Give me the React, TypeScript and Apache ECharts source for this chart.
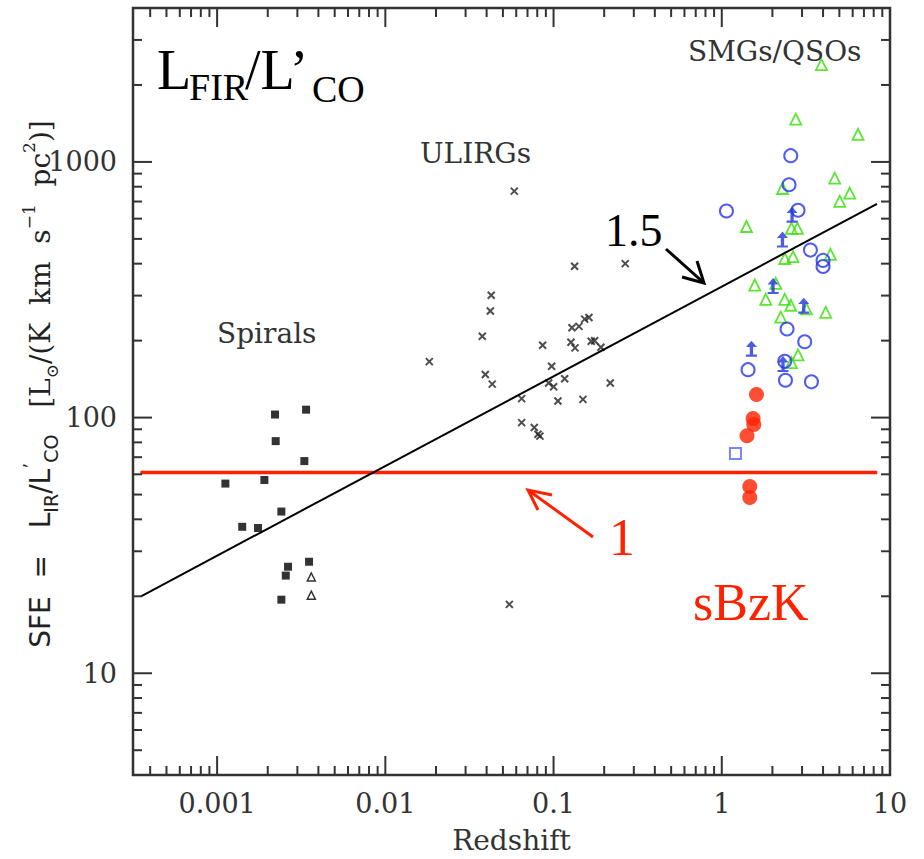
import React, { useEffect, useRef } from 'react';
import * as echarts from 'echarts';

// ---- axis ranges ----
const X_MIN = Math.pow(10, -3.5);
const X_MAX = 10;
const Y_MIN = 4;
const Y_MAX = 4000;

// ---- tick values ----
const xMajorTicks = [0.001, 0.01, 0.1, 1];
const yMajorTicks = [10, 100, 1000];
const xDecades = [0.0001, 0.001, 0.01, 0.1, 1];
const yDecades = [1, 10, 100, 1000];
const mantissas = [2, 3, 4, 5, 6, 7, 8, 9];

// ---- data: [redshift, SFE] ----
const spiralSquares = [
  [0.00221, 102.8], [0.00338, 107.4], [0.00223, 80.9], [0.0033, 67.6], [0.00112, 55.2],
  [0.00191, 57.0], [0.00241, 42.9], [0.00141, 37.4], [0.00175, 37.0], [0.00352, 27.3],
  [0.00264, 26.1], [0.00256, 24.1], [0.00241, 19.4],
];
const spiralTriangles = [[0.00363, 23.8], [0.00363, 20.2]];
const ulirgs = [
  [0.0584, 769], [0.1334, 391], [0.2667, 400], [0.0426, 301], [0.0421, 261], [0.0377, 208],
  [0.01826, 165.6], [0.1286, 224.6], [0.1416, 227.4], [0.1531, 242.8], [0.1623, 246.5],
  [0.0861, 191.8], [0.1269, 197.0], [0.1341, 187.3], [0.1675, 198.8], [0.1755, 199.9],
  [0.1912, 188.4], [0.0974, 158.9], [0.0393, 147.4], [0.0432, 135.2], [0.0935, 136.5],
  [0.1001, 132], [0.1164, 141.8], [0.2173, 136.5], [0.0646, 118.6], [0.1062, 116.1],
  [0.1495, 117.8], [0.0646, 95.6], [0.0768, 91.4], [0.0808, 86.1], [0.083, 84.6], [0.0546, 18.6],
];
const smgTriangles = [
  [3.91, 2400], [2.753, 1470], [6.455, 1282], [4.692, 864], [2.295, 787], [5.761, 755],
  [5.025, 701], [1.402, 559], [2.595, 550], [2.818, 550], [2.368, 419], [2.652, 426],
  [4.425, 435], [1.571, 330], [2.094, 335], [1.826, 290], [2.368, 290], [2.57, 275],
  [3.186, 266], [4.149, 258], [2.242, 247], [2.841, 176], [2.595, 164],
];
const smgCircles = [
  [2.57, 1058], [2.511, 814], [1.066, 643], [2.841, 647], [3.365, 452], [3.999, 412],
  [3.999, 390], [2.443, 222], [3.112, 198], [1.433, 154], [2.368, 166], [2.391, 140], [3.412, 138],
];
const smgLowerLimits = [
  [2.617, 622], [2.295, 497], [2.018, 327], [3.071, 274], [1.501, 186], [2.313, 162],
];
const smgSquares = [[1.206, 72.4]];
const sbzk = [[1.608, 123.2], [1.535, 99.1], [1.55, 93.9], [1.413, 84.9], [1.467, 53.8], [1.467, 48.7]];

// ---- fitted relations ----
const linearRelation = [[0.00035, 61], [8.4, 61]];
const slope15Relation = [[0.000353, 20], [8.37, 686]];

const AXIS_COLOR = '#333';
const SERIF = '"DejaVu Serif", serif';
const TIMES = '"Liberation Serif", "Times New Roman", serif';
const SANS = '"DejaVu Sans", Arial, sans-serif';

function tickSeries(values: number[], axis: 'x' | 'y', len: number) {
  return {
    type: 'custom',
    silent: true,
    z: 5,
    coordinateSystem: 'cartesian2d',
    data: values.map((v) => (axis === 'x' ? [v, 40] : [0.01, v])),
    renderItem: (params: any, api: any) => {
      const cs = params.coordSys;
      const style = { stroke: AXIS_COLOR, lineWidth: 2 };
      if (axis === 'x') {
        const px = api.coord([api.value(0), 40])[0];
        const b = cs.y + cs.height;
        return {
          type: 'group',
          children: [
            { type: 'line', shape: { x1: px, y1: b, x2: px, y2: b - len }, style },
            { type: 'line', shape: { x1: px, y1: cs.y, x2: px, y2: cs.y + len }, style },
          ],
        };
      }
      const py = api.coord([0.01, api.value(1)])[1];
      const r = cs.x + cs.width;
      return {
        type: 'group',
        children: [
          { type: 'line', shape: { x1: cs.x, y1: py, x2: cs.x + len, y2: py }, style },
          { type: 'line', shape: { x1: r, y1: py, x2: r - len, y2: py }, style },
        ],
      };
    },
  };
}

const fmt = (v: number) => String(Number(Number(v).toPrecision(3)));

export default function App() {
  const ref = useRef<HTMLDivElement>(null);
  useEffect(() => {
    const chart = echarts.init(ref.current!, null, { renderer: 'svg' });

    const xMinor: number[] = [];
    xDecades.forEach((d) => mantissas.forEach((m) => {
      const v = d * m;
      if (v > X_MIN && v < X_MAX) xMinor.push(v);
    }));
    const yMinor: number[] = [];
    yDecades.forEach((d) => mantissas.forEach((m) => {
      const v = d * m;
      if (v > Y_MIN && v < Y_MAX) yMinor.push(v);
    }));

    const arrowPath =
      'path://M5,0L10,6L6.5,6L6.5,13L10,13L10,15L0,15L0,13L3.5,13L3.5,6L0,6Z';

    const option: any = {
      animation: false,
      backgroundColor: '#fff',
      textStyle: { fontFamily: SERIF },
      grid: {
        left: 133, right: 34, top: 8, bottom: 81,
        show: true, borderColor: AXIS_COLOR, borderWidth: 2.5, backgroundColor: 'transparent',
      },
      xAxis: {
        type: 'log', logBase: 10, min: X_MIN, max: X_MAX,
        axisLine: { show: false }, axisTick: { show: false }, splitLine: { show: false },
        axisLabel: {
          showMinLabel: false, showMaxLabel: true, interval: 0, margin: 15,
          fontFamily: SERIF, fontSize: 27, color: AXIS_COLOR, formatter: fmt,
        },
        name: 'Redshift', nameLocation: 'middle', nameGap: 51,
        nameTextStyle: { fontFamily: SERIF, fontSize: 28, color: AXIS_COLOR },
      },
      yAxis: {
        type: 'log', logBase: 10, min: Y_MIN, max: Y_MAX,
        axisLine: { show: false }, axisTick: { show: false }, splitLine: { show: false },
        axisLabel: {
          showMinLabel: false, showMaxLabel: false, interval: 0, margin: 16,
          fontFamily: SERIF, fontSize: 27, color: AXIS_COLOR, formatter: fmt,
        },
      },
      series: [
        tickSeries(xMinor, 'x', 9),
        tickSeries(xMajorTicks, 'x', 19),
        tickSeries(yMinor, 'y', 9),
        tickSeries(yMajorTicks, 'y', 19),
        {
          name: 'SFE = 1 relation', type: 'line', data: linearRelation, showSymbol: false, silent: true,
          lineStyle: { color: '#ff2200', width: 3.5 }, z: 3,
        },
        {
          name: 'slope 1.5 relation', type: 'line', data: slope15Relation, showSymbol: false, silent: true,
          lineStyle: { color: '#000', width: 2 }, z: 4,
        },
        {
          name: 'Spirals', type: 'scatter', data: spiralSquares, symbol: 'rect', symbolSize: 8,
          itemStyle: { color: '#000' }, silent: true,
        },
        {
          name: 'Spirals (tri)', type: 'scatter', data: spiralTriangles, symbol: 'triangle', symbolSize: 8,
          itemStyle: { color: '#fff', borderColor: '#000', borderWidth: 1.5 }, silent: true,
        },
        {
          name: 'ULIRGs', type: 'scatter', data: ulirgs, symbol: 'path://M0,0L10,10M10,0L0,10',
          symbolSize: 7, itemStyle: { color: 'none', borderColor: '#222', borderWidth: 2 }, silent: true,
        },
        {
          name: 'SMGs', type: 'scatter', data: smgTriangles, symbol: 'triangle', symbolSize: 11,
          itemStyle: { color: 'rgba(0,0,0,0)', borderColor: '#33e000', borderWidth: 1.8 }, silent: true,
        },
        {
          name: 'QSOs', type: 'scatter', data: smgCircles, symbol: 'circle', symbolSize: 13,
          itemStyle: { color: 'rgba(0,0,0,0)', borderColor: '#2233ee', borderWidth: 2 }, silent: true,
        },
        {
          name: 'Lower limits', type: 'scatter', data: smgLowerLimits, symbol: arrowPath, symbolSize: [11, 16],
          itemStyle: { color: '#2233dd' }, silent: true,
        },
        {
          name: 'Square', type: 'scatter', data: smgSquares, symbol: 'rect', symbolSize: 11,
          itemStyle: { color: 'rgba(0,0,0,0)', borderColor: '#5566ff', borderWidth: 2 }, silent: true,
        },
        {
          name: 'sBzK', type: 'scatter', data: sbzk, symbol: 'circle', symbolSize: 15,
          itemStyle: { color: '#ff2200' }, silent: true, z: 6,
        },
      ],
      graphic: [
        // title L_FIR / L'_CO
        { type: 'text', x: 157, y: 70, style: { text: 'L', fontFamily: TIMES, fontSize: 56, fill: '#000', verticalAlign: 'middle' } },
        { type: 'text', x: 189, y: 87, style: { text: 'FIR', fontFamily: TIMES, fontSize: 38, fill: '#000', verticalAlign: 'middle' } },
        { type: 'text', x: 245, y: 70, style: { text: '/L’', fontFamily: TIMES, fontSize: 56, fill: '#000', verticalAlign: 'middle' } },
        { type: 'text', x: 312, y: 89, style: { text: 'CO', fontFamily: TIMES, fontSize: 38, fill: '#000', verticalAlign: 'middle' } },
        // group labels
        { type: 'text', x: 688, y: 51, style: { text: 'SMGs/QSOs', fontFamily: SERIF, fontSize: 28, fill: '#333', verticalAlign: 'middle' } },
        { type: 'text', x: 420, y: 153, style: { text: 'ULIRGs', fontFamily: SERIF, fontSize: 28, fill: '#333', verticalAlign: 'middle' } },
        { type: 'text', x: 217, y: 333, style: { text: 'Spirals', fontFamily: SERIF, fontSize: 28, fill: '#333', verticalAlign: 'middle' } },
        // slope annotations
        { type: 'text', x: 605, y: 230, style: { text: '1.5', fontFamily: TIMES, fontSize: 46, fill: '#000', verticalAlign: 'middle' } },
        { type: 'line', shape: { x1: 666, y1: 249, x2: 704, y2: 283 }, style: { stroke: '#000', lineWidth: 3 } },
        { type: 'polyline', shape: { points: [[682, 277], [704, 283], [697, 261]] }, style: { stroke: '#000', lineWidth: 3, fill: 'none' } },
        { type: 'text', x: 609, y: 537, style: { text: '1', fontFamily: TIMES, fontSize: 52, fill: '#ff2200', verticalAlign: 'middle' } },
        { type: 'line', shape: { x1: 593, y1: 537, x2: 528, y2: 490 }, style: { stroke: '#ff2200', lineWidth: 3 } },
        { type: 'polyline', shape: { points: [[552, 495], [528, 490], [538, 510]] }, style: { stroke: '#ff2200', lineWidth: 3, fill: 'none' } },
        { type: 'text', x: 693, y: 602, style: { text: 'sBzK', fontFamily: TIMES, fontSize: 52, fill: '#ff2200', verticalAlign: 'middle' } },
        // y-axis title
        {
          type: 'text', x: 40, y: 384, rotation: Math.PI / 2,
          style: {
            text: '{s|SFE  =   L}{sub|IR}{s|/L}{sup|’}{sub|CO}{r|   [L}{subr|⊙}{r|/(K  km  s}{supr|−1}{r|  pc}{supr|2}{r|)]}',
            align: 'center', verticalAlign: 'middle', fill: '#222',
            rich: {
              s: { fontFamily: SANS, fontSize: 28, lineHeight: 40, fill: '#222' },
              sub: { fontFamily: SANS, fontSize: 19, lineHeight: 24, verticalAlign: 'bottom', fill: '#222' },
              sup: { fontFamily: SANS, fontSize: 19, lineHeight: 24, verticalAlign: 'top', fill: '#222' },
              r: { fontFamily: SERIF, fontSize: 28, lineHeight: 40, fill: '#222' },
              subr: { fontFamily: SERIF, fontSize: 17, lineHeight: 24, verticalAlign: 'bottom', fill: '#222' },
              supr: { fontFamily: SERIF, fontSize: 17, lineHeight: 26, verticalAlign: 'top', fill: '#222' },
            },
          },
        },
      ],
    };
    chart.setOption(option);
    return () => chart.dispose();
  }, []);
  return (
    <div
      ref={ref}
      style={{ position: 'absolute', left: 0, top: 0, width: 924, height: 859, background: '#fff' }}
    />
  );
}
